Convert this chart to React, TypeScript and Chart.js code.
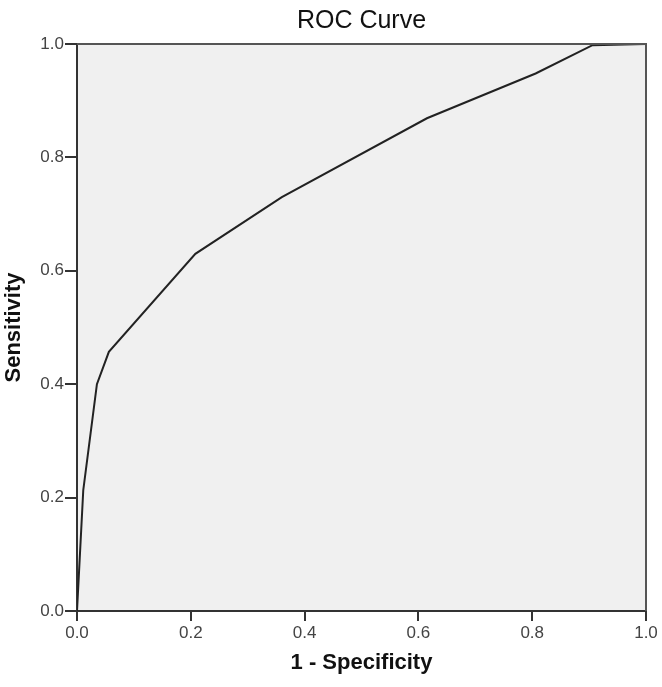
import React, { useEffect, useRef } from "react";
import { Chart, registerables } from "chart.js";

Chart.register(...registerables);

const fprValues = [0, 0.011, 0.035, 0.056, 0.208, 0.36, 0.615, 0.806, 0.906, 1.0];
const tprValues = [0, 0.213, 0.4, 0.457, 0.63, 0.73, 0.869, 0.948, 0.998, 1.0];
const titleText = "ROC Curve";
const xTitle = "1 - Specificity";
const yTitle = "Sensitivity";

const FONT = "Arial, 'Liberation Sans', sans-serif";

const plotBg = {
  id: "plotBg",
  beforeDraw(chart: any) {
    const { ctx, chartArea } = chart;
    ctx.save();
    ctx.fillStyle = "#f0f0f0";
    ctx.fillRect(chartArea.left, chartArea.top, chartArea.right - chartArea.left, chartArea.bottom - chartArea.top);
    ctx.restore();
  },
  afterDraw(chart: any) {
    const { ctx, chartArea } = chart;
    ctx.save();
    ctx.strokeStyle = "#555";
    ctx.lineWidth = 2;
    ctx.beginPath();
    ctx.moveTo(chartArea.left, chartArea.top);
    ctx.lineTo(chartArea.right, chartArea.top);
    ctx.lineTo(chartArea.right, chartArea.bottom);
    ctx.stroke();
    ctx.restore();
  },
};

export default function App() {
  const ref = useRef<HTMLCanvasElement>(null);
  useEffect(() => {
    if (!ref.current) return;
    const data = fprValues.map((x, i) => ({ x, y: tprValues[i] }));
    const chart = new Chart(ref.current, {
      type: "scatter",
      data: {
        datasets: [
          {
            data,
            showLine: true,
            borderColor: "#222",
            borderWidth: 2,
            pointRadius: 0,
            tension: 0,
          } as any,
        ],
      },
      options: {
        responsive: false,
        animation: false,
        layout: { padding: { top: 0, right: 16, bottom: 0, left: 0 } },
        plugins: {
          legend: { display: false },
          tooltip: { enabled: false },
          title: {
            display: true,
            text: titleText,
            fullSize: false,
            color: "#111",
            font: { family: FONT, size: 25, weight: "normal", lineHeight: 1.2 },
            padding: { top: 6, bottom: 8 },
          } as any,
        },
        scales: {
          x: {
            type: "linear",
            min: 0,
            max: 1,
            afterFit(scale: any) {
              scale.height = 76;
            },
            border: { display: true, color: "#333", width: 2 },
            grid: { drawOnChartArea: false, color: "#333", tickLength: 10, lineWidth: 2 },
            ticks: {
              stepSize: 0.2,
              padding: 2,
              color: "#444",
              font: { family: FONT, size: 17 },
              callback: (v: any) => Number(v).toFixed(1),
            },
            title: {
              display: true,
              text: xTitle,
              color: "#111",
              font: { family: FONT, size: 22, weight: "bold", lineHeight: 1.2 },
              padding: { top: 4, bottom: 11 },
            },
          },
          y: {
            type: "linear",
            min: 0,
            max: 1,
            afterFit(scale: any) {
              scale.width = 77;
            },
            border: { display: true, color: "#333", width: 2 },
            grid: { drawOnChartArea: false, color: "#333", tickLength: 12, lineWidth: 2 },
            ticks: {
              stepSize: 0.2,
              padding: 1,
              color: "#444",
              font: { family: FONT, size: 17 },
              callback: (v: any) => Number(v).toFixed(1),
            },
            title: {
              display: true,
              text: yTitle,
              color: "#111",
              font: { family: FONT, size: 22, weight: "bold", lineHeight: 1.2 },
              padding: { top: 1, bottom: 4 },
            },
          },
        },
      },
      plugins: [plotBg],
    });
    return () => chart.destroy();
  }, []);
  return (
    <div style={{ position: "fixed", left: 0, top: 0, width: 662, height: 687, background: "#fff" }}>
      <canvas ref={ref} width={662} height={687} style={{ width: 662, height: 687 }} />
    </div>
  );
}
